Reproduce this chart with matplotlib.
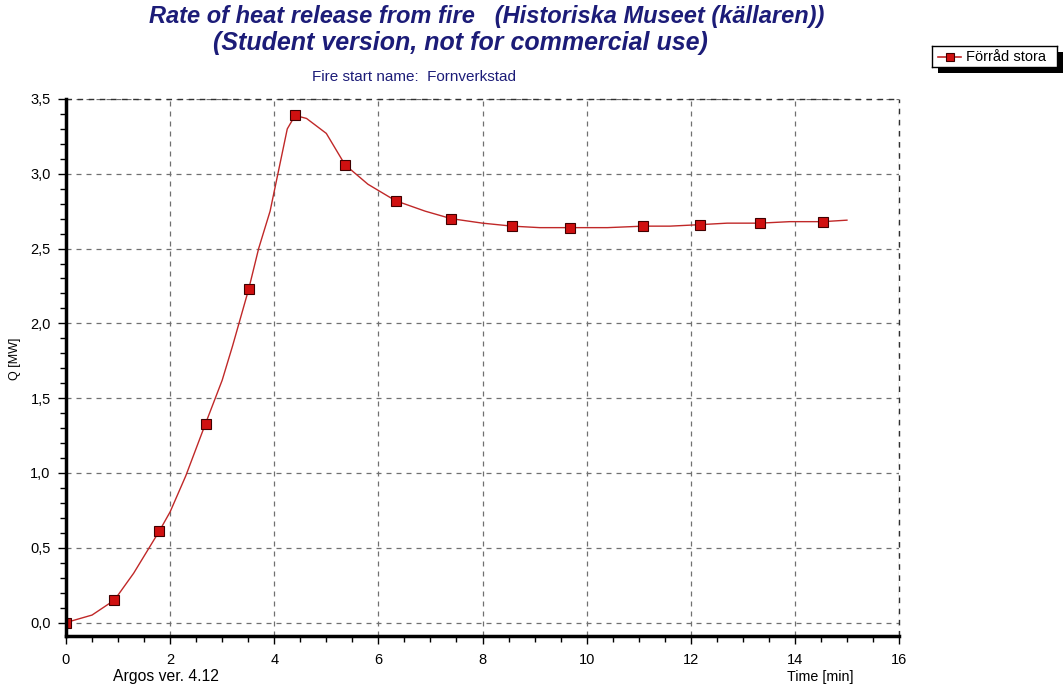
import matplotlib.pyplot as plt
from matplotlib.ticker import MultipleLocator, FuncFormatter
import matplotlib.patheffects as pe

plt.rcParams['font.family'] = ['Liberation Sans', 'DejaVu Sans']

# curve (time in min, Q in MW)
time_line = [0.0, 0.5, 0.93, 1.3, 1.79, 2.0, 2.3, 2.68, 3.0, 3.2, 3.51, 3.7, 3.92,
             4.1, 4.25, 4.40, 4.62, 5.0, 5.36, 5.8, 6.33, 6.9, 7.40, 8.0, 8.57,
             9.1, 9.69, 10.4, 11.09, 11.6, 12.18, 12.7, 13.33, 13.9, 14.54, 15.0]
q_line = [0.0, 0.05, 0.15, 0.33, 0.61, 0.74, 0.98, 1.33, 1.62, 1.85, 2.23, 2.5, 2.75,
          3.05, 3.30, 3.39, 3.37, 3.27, 3.06, 2.93, 2.82, 2.75, 2.70, 2.67, 2.65,
          2.64, 2.64, 2.64, 2.65, 2.65, 2.66, 2.67, 2.67, 2.68, 2.68, 2.69]

# marker points
time_mark = [0.0, 0.93, 1.79, 2.68, 3.51, 4.40, 5.36, 6.33, 7.40, 8.57, 9.69,
             11.09, 12.18, 13.33, 14.54]
q_mark = [0.0, 0.15, 0.61, 1.33, 2.23, 3.39, 3.06, 2.82, 2.70, 2.65, 2.64,
          2.65, 2.66, 2.67, 2.68]

series_name = "Förråd stora"
navy = '#1c1c78'
W, H = 1063, 690

fig = plt.figure(figsize=(10.63, 6.9), dpi=100)
ax = fig.add_axes([66 / W, 1 - 636 / H, 833 / W, 537 / H])

ax.plot(time_line, q_line, '-', color='#c02828', linewidth=1.0)
ax.plot(time_mark, q_mark, 's', color='#d01010', markeredgecolor='#400000',
        markeredgewidth=0.8, markersize=7)

ax.set_xlim(0, 16)
ax.set_ylim(-0.09, 3.5)
ax.xaxis.set_major_locator(MultipleLocator(2))
ax.xaxis.set_minor_locator(MultipleLocator(0.5))
ax.yaxis.set_major_locator(MultipleLocator(0.5))
ax.yaxis.set_minor_locator(MultipleLocator(0.1))
ax.yaxis.set_major_formatter(FuncFormatter(lambda v, p: f"{v:.1f}".replace('.', ',')))
ax.tick_params(which='major', length=6, width=1, labelsize=10.5, direction='out')
ax.tick_params(which='minor', length=4, width=1, direction='out')
ax.tick_params(axis='y', pad=5)
ax.tick_params(axis='x', pad=6)

ax.grid(True, which='major', linestyle=(0, (4, 4)), color='#707070', linewidth=0.9)
ax.axhline(3.5, linestyle=(0, (4, 4)), color='#303030', linewidth=1.0, clip_on=False)
ax.axvline(16, linestyle=(0, (4, 4)), color='#303030', linewidth=1.0, clip_on=False)
for s in ['top', 'right']:
    ax.spines[s].set_visible(False)
for s in ['left', 'bottom']:
    ax.spines[s].set_linewidth(2.5)

fig.text(15 / W, 1 - 359 / H, "Q [MW]", rotation=90, ha='center', va='center', fontsize=9)

fig.text(487 / W, 1 - 17 / H, "Rate of heat release from fire   (Historiska Museet (källaren))",
         ha='center', va='center', fontsize=17, fontweight='bold', style='italic', color=navy)
fig.text(460 / W, 1 - 43 / H, "(Student version, not for commercial use)",
         ha='center', va='center', fontsize=18, fontweight='bold', style='italic', color=navy)
fig.text(414 / W, 1 - 77 / H, "Fire start name:  Fornverkstad",
         ha='center', va='center', fontsize=11, color=navy)
fig.text(166 / W, 1 - 677 / H, "Argos ver. 4.12", ha='center', va='center', fontsize=11.3)
fig.text(820 / W, 1 - 677 / H, "Time [min]", ha='center', va='center', fontsize=10.3)

# legend box with shadow
lax = fig.add_axes([932 / W, 1 - 67 / H, 125 / W, 21 / H])
lax.set_xlim(0, 1)
lax.set_ylim(0, 1)
lax.set_xticks([])
lax.set_yticks([])
for s in lax.spines.values():
    s.set_linewidth(1.0)
lax.patch.set_path_effects([pe.SimplePatchShadow(offset=(4, -4), shadow_rgbFace='black', alpha=1),
                            pe.Normal()])
lax.plot([0.05, 0.23], [0.5, 0.5], '-', color='#c02828', linewidth=1.2)
lax.plot([0.14], [0.5], 's', color='#d01010', markeredgecolor='#400000',
         markeredgewidth=0.8, markersize=6)
lax.text(0.27, 0.48, series_name, ha='left', va='center', fontsize=10.5)

fig.savefig("out.png", dpi=100)
